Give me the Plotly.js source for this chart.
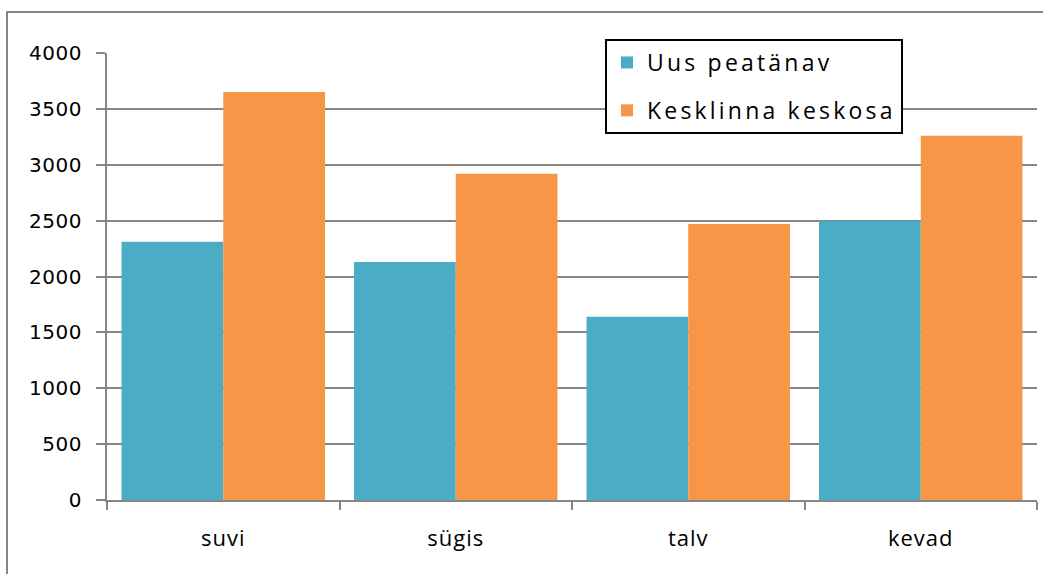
<!DOCTYPE html>
<html>
<head>
<meta charset="utf-8">
<script src="https://cdn.plot.ly/plotly-3.0.1.min.js"></script>
<style>
html,body{margin:0;padding:0;background:#fff;}
#chart{width:1043px;height:574px;}
.legendtext{letter-spacing:3.2px;}
.xtick text{letter-spacing:1px;}
.ytick text{letter-spacing:0.5px;}
</style>
</head>
<body>
<div id="chart"></div>
<script>
const categories = ["suvi", "sügis", "talv", "kevad"];
const seriesNames = ["Uus peatänav", "Kesklinna keskosa"];
const uusPeatanav = [2310, 2130, 1640, 2500];
const kesklinnaKeskosa = [3650, 2920, 2470, 3260];
const yTicks = [0, 500, 1000, 1500, 2000, 2500, 3000, 3500, 4000];

const W = 1043, H = 574;
const mL = 107, mR = 6, mT = 53, mB = 74;
const pw = W - mL - mR, ph = H - mT - mB;

const traces = [
  {type: 'bar', name: seriesNames[0], x: categories, y: uusPeatanav,
   marker: {color: '#4BACC6'}, legendgroup: 'a'},
  {type: 'bar', name: seriesNames[1], x: categories, y: kesklinnaKeskosa,
   marker: {color: '#F79646'}, legendgroup: 'b'}
];

const layout = {
  width: W, height: H,
  margin: {l: mL, r: mR, t: mT, b: mB, pad: 0},
  paper_bgcolor: '#fff', plot_bgcolor: '#fff',
  barmode: 'group', bargap: 0.125, bargroupgap: 0,
  font: {family: 'DejaVu Sans, sans-serif', color: '#000'},
  showlegend: true,
  legend: {
    x: (605 - mL) / pw, y: (500 - 39) / ph, xanchor: 'left', yanchor: 'top',
    bordercolor: '#000', borderwidth: 2, bgcolor: '#fff',
    font: {family: 'Open Sans, sans-serif', size: 23, color: '#000'},
    tracegroupgap: 15, itemwidth: 30
  },
  xaxis: {
    type: 'category', showgrid: false, showline: true, linecolor: '#868686', linewidth: 2,
    ticks: 'outside', tickson: 'boundaries', ticklen: 8, tickwidth: 2, tickcolor: '#868686',
    tickfont: {family: 'Open Sans, sans-serif', size: 22, color: '#000'},
    ticklabelstandoff: 18, zeroline: false
  },
  yaxis: {
    range: [0, 4000], tickvals: yTicks, ticktext: yTicks.map(String),
    showgrid: true, gridcolor: '#868686', gridwidth: 2,
    showline: true, linecolor: '#868686', linewidth: 2,
    ticks: 'outside', ticklen: 9, tickwidth: 2, tickcolor: '#868686',
    tickfont: {family: 'DejaVu Sans, sans-serif', size: 20, color: '#000'},
    ticklabelstandoff: 10, zeroline: false
  },
  shapes: [{
    type: 'rect', xref: 'paper', yref: 'paper',
    x0: (7 - mL) / pw, x1: (1060 - mL) / pw,
    y0: (500 - 600) / ph, y1: (500 - 12) / ph,
    line: {color: '#868686', width: 2}, fillcolor: 'rgba(0,0,0,0)', layer: 'below'
  }]
};

Plotly.newPlot('chart', traces, layout, {displayModeBar: false, staticPlot: true});
</script>
</body>
</html>
